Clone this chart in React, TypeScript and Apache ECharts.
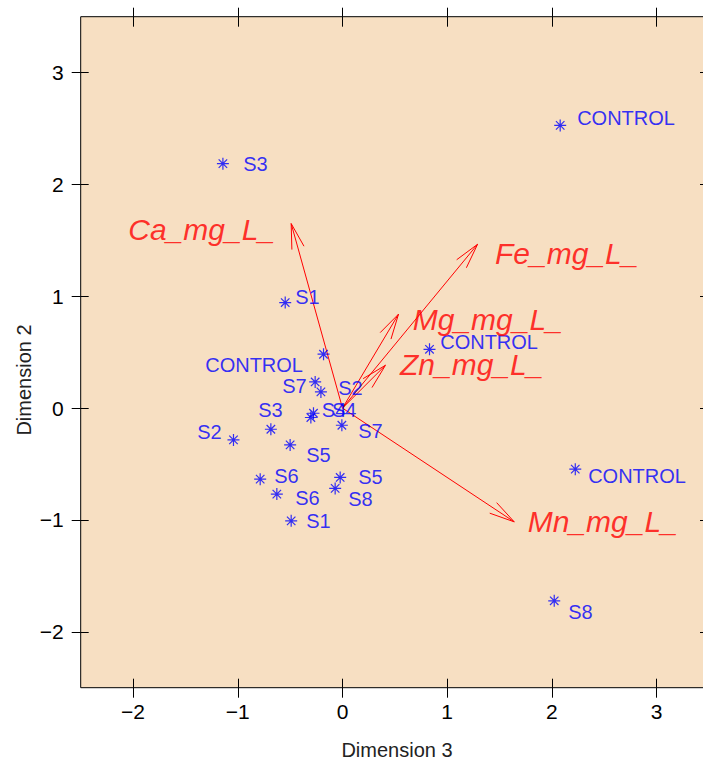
import React, { useEffect, useRef } from "react";
import * as echarts from "echarts";

// Sample scores (Dimension 3 vs Dimension 2)
const pointLabels = [
  "S3", "S1", "CONTROL", "S7", "S2", "S4", "S4", "S7", "S3", "S2",
  "S5", "S6", "S6", "S1", "S5", "S8", "CONTROL", "CONTROL", "CONTROL", "S8",
];
const pointX = [
  -1.142, -0.547, -0.181, -0.261, -0.206, -0.277, -0.302, -0.006, -0.684, -1.041,
  -0.5, -0.786, -0.627, -0.49, -0.022, -0.07, 2.079, 0.831, 2.223, 2.022,
];
const pointY = [
  2.186, 0.944, 0.482, 0.234, 0.145, -0.046, -0.084, -0.153, -0.189, -0.284,
  -0.329, -0.635, -0.769, -1.008, -0.62, -0.718, 2.528, 0.526, -0.546, -1.723,
];
// Anchor (left edge, vertical middle) of each sample label, in data units
const pointLabelX = [
  -0.948, -0.452, -1.311, -0.576, -0.041, -0.197, -0.101, 0.15, -0.805, -1.388,
  -0.347, -0.652, -0.452, -0.347, 0.15, 0.054, 2.241, 0.933, 2.346, 2.156,
];
const pointLabelY = [
  2.18, 0.991, 0.384, 0.196, 0.184, -0.017, -0.017, -0.204, -0.019, -0.213,
  -0.419, -0.61, -0.805, -1.011, -0.613, -0.814, 2.591, 0.589, -0.606, -1.819,
];

// Variable loadings (arrows from the origin)
const variableNames = ["Ca_mg_L_", "Fe_mg_L_", "Mg_mg_L_", "Zn_mg_L_", "Mn_mg_L_"];
const arrowX = [-0.49, 1.29, 0.535, 0.41, 1.64];
const arrowY = [1.65, 1.465, 0.84, 0.383, -1.017];
const variableLabelX = [-1.345, 2.141, 1.387, 1.234, 2.485];
const variableLabelY = [1.594, 1.384, 0.794, 0.392, -1.015];

const tickValues = [-2, -1, 0, 1, 2, 3];
const axisMin = -2.5;
const axisMax = 3.5;

const FONT = "'Liberation Sans', Arial, Helvetica, sans-serif";
const BLUE = "#0000ff";
const RED = "#ff0000";

const ASTERISK =
  "path://M6,0L6,12M0,6L12,6M1.76,1.76L10.24,10.24M1.76,10.24L10.24,1.76";

function makeAxis(kind: "x" | "y", position: string, showLabel: boolean, inside: boolean, len: number) {
  return {
    type: "value",
    gridIndex: 0,
    position,
    min: axisMin,
    max: axisMax,
    splitLine: { show: false },
    axisLine: { show: false, onZero: false },
    axisTick: {
      show: true,
      inside,
      length: len,
      customValues: tickValues,
      lineStyle: { color: "#000", width: 1 },
    },
    axisLabel: {
      show: showLabel,
      customValues: tickValues,
      margin: kind === "x" ? 13 : 17,
      fontFamily: FONT,
      fontSize: 21,
      color: "#000",
      formatter: (v: number) => String(v).replace("-", "\u2212"),
    },
  };
}

export default function App() {
  const ref = useRef<HTMLDivElement>(null);

  useEffect(() => {
    if (!ref.current) return;
    const chart = echarts.init(ref.current, undefined, { renderer: "svg" });

    const option = {
      animation: false,
      backgroundColor: "#ffffff",
      grid: {
        left: 80.7,
        right: 11,
        top: 16.7,
        bottom: 77.3,
        show: true,
        backgroundColor: "#f7dfc2",
        borderColor: "#000",
        borderWidth: 1,
      },
      xAxis: [
        makeAxis("x", "bottom", true, false, 10),
        makeAxis("x", "bottom", false, true, 9),
        makeAxis("x", "top", false, false, 9),
        makeAxis("x", "top", false, true, 10),
      ],
      yAxis: [
        makeAxis("y", "left", true, false, 9),
        makeAxis("y", "left", false, true, 8),
        makeAxis("y", "right", false, false, 9),
        makeAxis("y", "right", false, true, 9),
      ],
      graphic: [
        {
          type: "text",
          x: 397,
          y: 750,
          style: {
            text: "Dimension 3",
            font: `20px ${FONT}`,
            fill: "#222",
            align: "center",
            verticalAlign: "middle",
          },
        },
        {
          type: "text",
          x: 24,
          y: 380,
          rotation: Math.PI / 2,
          style: {
            text: "Dimension 2",
            font: `20px ${FONT}`,
            fill: "#222",
            align: "center",
            verticalAlign: "middle",
          },
        },
      ],
      series: [
        {
          type: "custom",
          xAxisIndex: 0,
          yAxisIndex: 0,
          data: arrowX.map((x, i) => [x, arrowY[i]]),
          renderItem: (_params: any, api: any) => {
            const o = api.coord([0, 0]);
            const t = api.coord([api.value(0), api.value(1)]);
            const ang = Math.atan2(o[1] - t[1], o[0] - t[0]);
            const L = 26;
            const a = (14 * Math.PI) / 180;
            const p1 = [t[0] + L * Math.cos(ang + a), t[1] + L * Math.sin(ang + a)];
            const p2 = [t[0] + L * Math.cos(ang - a), t[1] + L * Math.sin(ang - a)];
            return {
              type: "group",
              children: [
                {
                  type: "line",
                  shape: { x1: o[0], y1: o[1], x2: t[0], y2: t[1] },
                  style: { stroke: RED, lineWidth: 1 },
                },
                {
                  type: "polyline",
                  shape: { points: [p1, t, p2] },
                  style: { stroke: RED, fill: "none", lineWidth: 1 },
                },
              ],
            };
          },
        },
        {
          type: "scatter",
          xAxisIndex: 0,
          yAxisIndex: 0,
          symbol: ASTERISK,
          symbolSize: 12,
          itemStyle: { color: "rgba(0,0,0,0)", borderColor: BLUE, borderWidth: 1.2 },
          data: pointX.map((x, i) => [x, pointY[i]]),
        },
        {
          type: "scatter",
          xAxisIndex: 0,
          yAxisIndex: 0,
          symbol: "circle",
          symbolSize: 1,
          itemStyle: { color: "rgba(0,0,0,0)" },
          label: {
            show: true,
            position: "inside",
            align: "left",
            verticalAlign: "middle",
            fontFamily: FONT,
            fontSize: 20,
            color: BLUE,
            formatter: (p: any) => pointLabels[p.dataIndex],
          },
          data: pointLabelX.map((x, i) => [x, pointLabelY[i]]),
        },
        {
          type: "scatter",
          xAxisIndex: 0,
          yAxisIndex: 0,
          symbol: "circle",
          symbolSize: 1,
          itemStyle: { color: "rgba(0,0,0,0)" },
          label: {
            show: true,
            position: "inside",
            align: "center",
            verticalAlign: "middle",
            fontFamily: FONT,
            fontSize: 30,
            fontStyle: "italic",
            color: RED,
            formatter: (p: any) => variableNames[p.dataIndex],
          },
          data: variableLabelX.map((x, i) => [x, variableLabelY[i]]),
        },
      ],
    };

    chart.setOption(option as any);
    return () => chart.dispose();
  }, []);

  return (
    <div
      style={{
        position: "fixed",
        left: 0,
        top: 0,
        width: 703,
        height: 765,
        overflow: "hidden",
        background: "#fff",
      }}
    >
      <div ref={ref} style={{ width: 720, height: 765 }} />
    </div>
  );
}
